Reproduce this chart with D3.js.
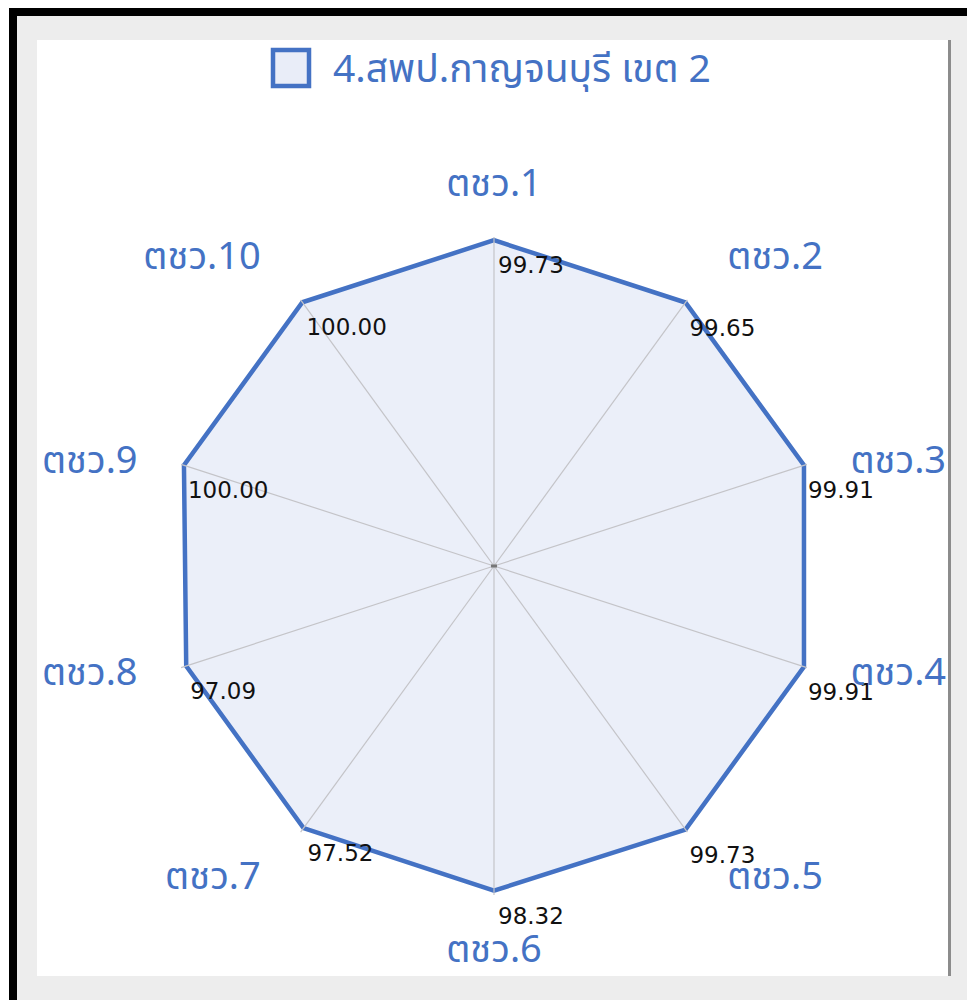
<!DOCTYPE html>
<html>
<head>
<meta charset="utf-8">
<script src="https://cdn.jsdelivr.net/npm/d3@7"></script>
<style>
  html, body { margin: 0; padding: 0; background: #ffffff; }
  svg { display: block; }
</style>
</head>
<body>
<svg id="chart" width="967" height="1000"></svg>
<script>
(function(){
	// chart values
	const categories = ["ตชว.1", "ตชว.2", "ตชว.3", "ตชว.4", "ตชว.5", "ตชว.6", "ตชว.7", "ตชว.8", "ตชว.9", "ตชว.10"];
	const values = [99.73, 99.65, 99.91, 99.91, 99.73, 98.32, 97.52, 97.09, 100.00, 100.00];
	const seriesName = "4.สพป.กาญจนบุรี เขต 2";
	const radialDomain = [-300, 100];

	const BLUE = "#4472c4";
	const FILL = "#e9edf8";
	const THAI_FONT = "'Noto Sans Thai', 'Noto Sans', 'Tahoma', sans-serif";
	const CX = 494, CY = 566, R = 326;

	var svg = d3.select("#chart");

	// page frame
	svg.append("rect").attr("x", 9).attr("y", 8).attr("width", 958).attr("height", 992).attr("fill", "#000");
	svg.append("rect").attr("x", 17).attr("y", 16).attr("width", 950).attr("height", 984).attr("fill", "#ededed");
	svg.append("rect").attr("x", 37).attr("y", 40).attr("width", 911).attr("height", 936).attr("fill", "#fff");
	svg.append("rect").attr("x", 948).attr("y", 40).attr("width", 3).attr("height", 936).attr("fill", "#8c8c8c");

	var n = categories.length;
	var angle = d3.scaleLinear().domain([0, n]).range([0, 2 * Math.PI]);
	var radius = d3.scaleLinear().domain(radialDomain).range([0, R]);

	var g = svg.append("g").attr("transform", "translate(" + CX + "," + CY + ")");

	function px(i, r){ return Math.sin(angle(i)) * r; }
	function py(i, r){ return -Math.cos(angle(i)) * r; }

	// spokes
	g.selectAll("line.spoke")
		.data(categories)
		.enter().append("line")
		.attr("class", "spoke")
		.attr("x1", 0).attr("y1", 0)
		.attr("x2", function(d, i){ return px(i, radius(radialDomain[1]) + 3); })
		.attr("y2", function(d, i){ return py(i, radius(radialDomain[1]) + 3); })
		.attr("stroke", "#c4c4c8")
		.attr("stroke-width", 1.2);

	// series polygon
	var line = d3.lineRadial()
		.angle(function(d, i){ return angle(i); })
		.radius(function(d){ return radius(d); })
		.curve(d3.curveLinearClosed);

	g.append("path")
		.datum(values)
		.attr("d", line)
		.attr("fill", FILL)
		.attr("fill-opacity", 0.9)
		.attr("stroke", BLUE)
		.attr("stroke-width", 4.5)
		.attr("stroke-linejoin", "miter");

	// keep spokes visible over the fill
	g.selectAll("line.spoke").raise();
	g.append("rect").attr("x", -3).attr("y", -1.5).attr("width", 6).attr("height", 3).attr("fill", "#777");

	// value labels
	g.selectAll("text.val")
		.data(values)
		.enter().append("text")
		.attr("class", "val")
		.attr("x", function(d, i){ return px(i, radius(d)) + 4; })
		.attr("y", function(d, i){ return py(i, radius(d)) + 33; })
		.attr("font-family", "'DejaVu Sans', sans-serif")
		.attr("font-size", 23)
		.attr("fill", "#111")
		.text(function(d){ return d3.format(".2f")(d); });

	// category labels
	g.selectAll("text.cat")
		.data(categories)
		.enter().append("text")
		.attr("class", "cat")
		.attr("x", function(d, i){
			var s = Math.sin(angle(i));
			if (Math.abs(s) < 1e-6) return 0;
			return s * 339 + (s > 0 ? 34 : -34);
		})
		.attr("y", function(d, i){
			var c = -Math.cos(angle(i));
			return c * (Math.abs(c) < 0.5 ? 343 : 383) + 13;
		})
		.attr("text-anchor", function(d, i){
			var s = Math.sin(angle(i));
			if (Math.abs(s) < 1e-6) return "middle";
			return s > 0 ? "start" : "end";
		})
		.attr("font-family", THAI_FONT)
		.attr("font-size", 38)
		.attr("fill", BLUE)
		.text(function(d){ return d; });

	// legend
	var legend = svg.append("g").attr("transform", "translate(273,50)");
	legend.append("rect")
		.attr("width", 36).attr("height", 36)
		.attr("fill", FILL)
		.attr("stroke", BLUE)
		.attr("stroke-width", 4.5);
	legend.append("text")
		.attr("x", 60).attr("y", 32)
		.attr("font-family", THAI_FONT)
		.attr("font-size", 39)
		.attr("fill", BLUE)
		.text(seriesName);
})();
</script>
</body>
</html>
